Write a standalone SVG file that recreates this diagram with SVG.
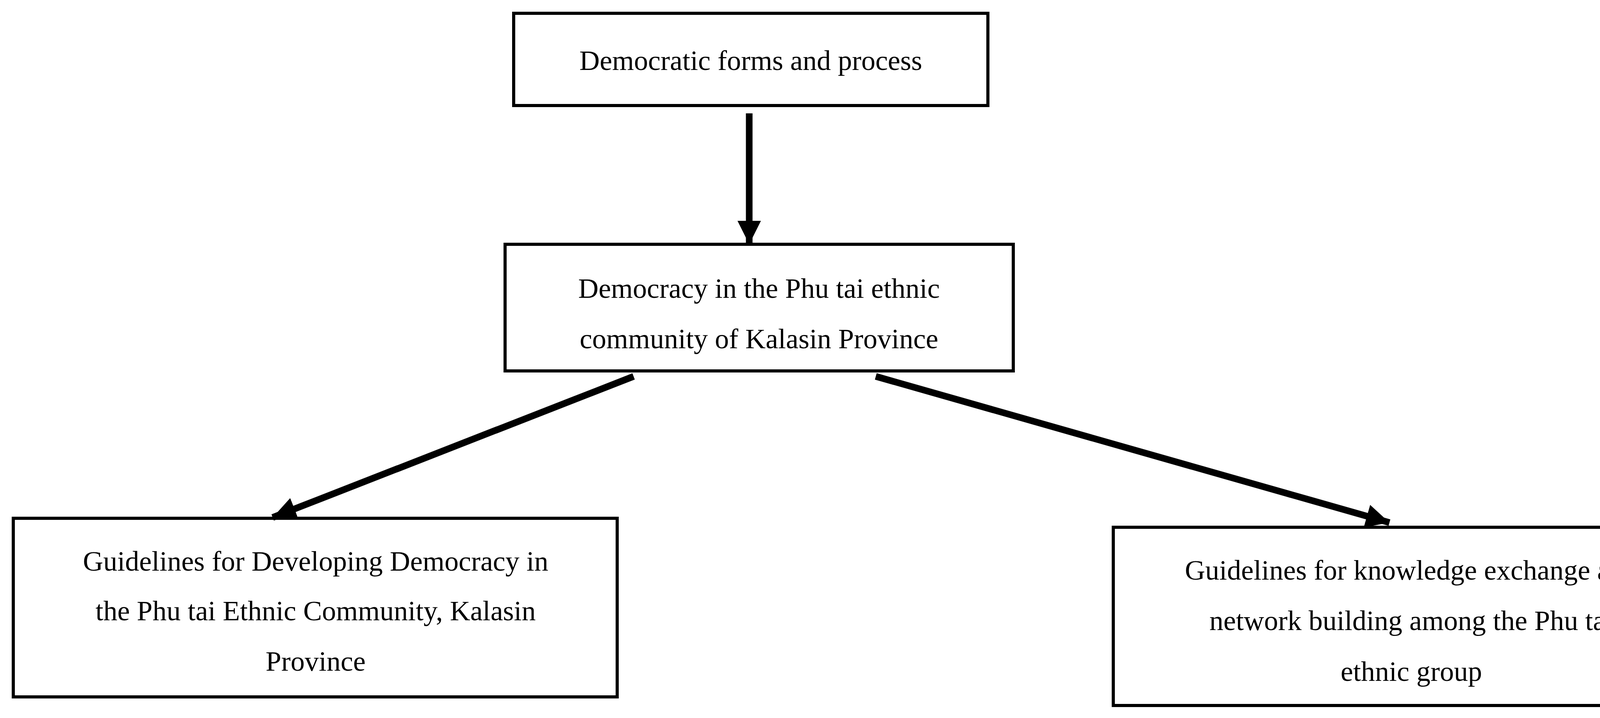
<svg xmlns="http://www.w3.org/2000/svg" width="4415" height="1837" viewBox="0 0 4415 1837">
<style>
rect{fill:#fff;stroke:#000;stroke-width:8}
text{font-family:"Liberation Serif",serif;font-size:72px;fill:#000;text-anchor:middle;dominant-baseline:central}
.c{stroke:#000;stroke-width:17;fill:none}
</style>
<defs><marker id="a" markerUnits="userSpaceOnUse" markerWidth="70" markerHeight="60" refX="60" refY="30" orient="auto"><path d="M0,0 L60,30 L0,60 Z" fill="#000"/></marker></defs>
<rect x="0" y="0" width="4415" height="1837" style="stroke:none"/>
<g id="n1"><rect x="1315" y="34" width="1214" height="236"/><text x="1922" y="155">Democratic forms and process</text></g>
<g id="n2"><rect x="1293" y="625" width="1301" height="324"/><text x="1943" y="738">Democracy in the Phu tai ethnic</text><text x="1943" y="867">community of Kalasin Province</text></g>
<g id="n3"><rect x="34" y="1326" width="1546" height="457"/><text x="808" y="1436">Guidelines for Developing Democracy in</text><text x="808" y="1563">the Phu tai Ethnic Community, Kalasin</text><text x="808" y="1692">Province</text></g>
<g id="n4"><rect x="2850" y="1349" width="1529" height="456"/><text x="3613" y="1459">Guidelines for knowledge exchange and</text><text x="3613" y="1588">network building among the Phu tai</text><text x="3613" y="1718">ethnic group</text></g>
<g id="connectors">
<line class="c" x1="1918" y1="290" x2="1918" y2="625" marker-end="url(#a)"/>
<line class="c" x1="1622" y1="963" x2="698" y2="1324" marker-end="url(#a)"/>
<line class="c" x1="2242" y1="963" x2="3557" y2="1337" marker-end="url(#a)"/>
</g>
</svg>
